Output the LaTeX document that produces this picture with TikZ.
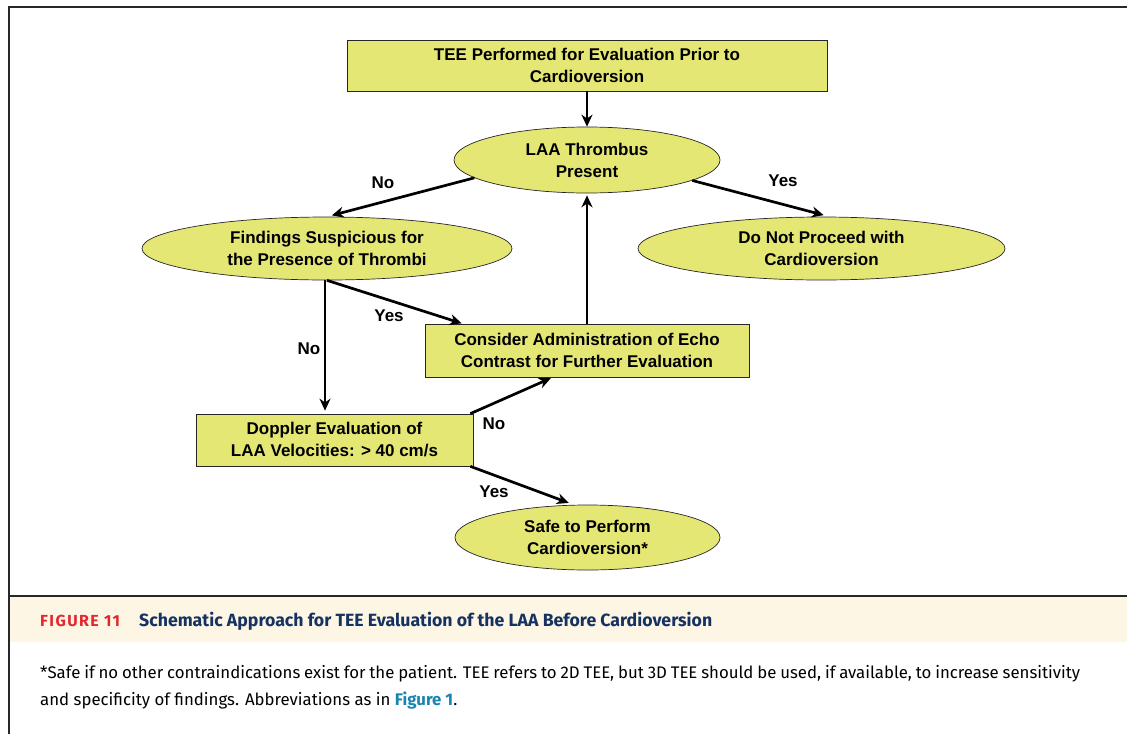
\documentclass[tikz,border=0pt]{standalone}
\usepackage{fontspec}
\usepackage{tikz}
\usepackage{xcolor}
\usetikzlibrary{arrows.meta, calc, positioning, shapes.geometric}
\newfontfamily\diagfont{Liberation Sans}
\newfontfamily\capfont{Fira Sans}
\definecolor{boxyellow}{RGB}{229,231,117}
\definecolor{bandcream}{RGB}{253,246,228}
\definecolor{figred}{RGB}{226,40,46}
\definecolor{titlenavy}{RGB}{22,50,98}
\definecolor{linkblue}{RGB}{24,132,178}
\definecolor{framegray}{RGB}{40,40,40}

\tikzset{
  decision/.style={ellipse, draw=black!85, line width=0.7pt, fill=boxyellow, inner sep=0pt, align=center,
    font=\diagfont\bfseries\fontsize{17}{22}\selectfont},
  actionbox/.style={rectangle, draw=black!85, line width=0.7pt, fill=boxyellow, inner sep=0pt, align=center,
    font=\diagfont\bfseries\fontsize{17}{22}\selectfont},
  flow/.style={-{Stealth[length=12pt, width=11pt]}, line width=2.7pt},
  answer/.style={font=\diagfont\bfseries\fontsize{17}{20}\selectfont}
}

\begin{document}
\begin{tikzpicture}[x=1pt, y=-1pt, >=Stealth]
        \useasboundingbox (0,0) rectangle (1127,734);

        % Frame and caption band
        \fill[bandcream] (9,597) rectangle (1127,642);
        \draw[framegray, line width=2pt] (8.5,734) -- (8.5,6.5) -- (1127,6.5);
        \draw[framegray, line width=1.6pt] (8.5,596) -- (1127,596);

        % Boxes
        \node[actionbox, minimum width=480pt, minimum height=51pt] (tee) at (587,65.5)
            {TEE Performed for Evaluation Prior to\\Cardioversion};
        \node[decision, minimum width=266pt, minimum height=66pt] (laa) at (587,160)
            {LAA Thrombus\\Present};
        \node[decision, minimum width=370pt, minimum height=63pt] (findings) at (327,248.5)
            {Findings Suspicious for\\the Presence of Thrombi};
        \node[decision, minimum width=367pt, minimum height=63pt] (notpro) at (821.5,248.5)
            {Do Not Proceed with\\Cardioversion};
        \node[actionbox, minimum width=324pt, minimum height=53pt] (consider) at (587,350.5)
            {Consider Administration of Echo\\Contrast for Further Evaluation};
        \node[actionbox, minimum width=277pt, minimum height=52pt] (doppler) at (334.5,440)
            {Doppler Evaluation of\\LAA Velocities: > 40 cm/s};
        \node[decision, minimum width=265pt, minimum height=65pt] (safe) at (587.5,537.5)
            {Safe to Perform\\Cardioversion*};

        % Connectors
        \draw[flow] (tee) -- (laa);
        \draw[flow, shorten >=5pt] (laa.189) -- (findings.north);
        \draw[flow, shorten >=6pt] (laa.-11) -- ([xshift=8pt]notpro.north);
        \draw[flow, shorten >=2pt] (consider) -- (laa);
        \draw[flow, shorten >=3pt] ([xshift=-2pt]findings.south) -- ([xshift=-2pt]doppler.north -| findings.south);
        \draw[flow, shorten >=1pt] (findings.south) -- ($(consider.north west)+(38,0)$);
        \draw[flow, shorten >=2pt] ([xshift=-3pt]doppler.north east) -- ($(consider.south west)+(128,0)$);
        \draw[flow, shorten >=5pt] ([xshift=-3pt]doppler.south east) -- ([xshift=-14pt]safe.north);

        % Answers
        \node[answer] (nofind) at (383,183) {No};
        \node[answer] (yesnot) at (783,181) {Yes};
        \node[answer] (nodop) at (309,349) {No};
        \node[answer] (yescons) at (389,316) {Yes};
        \node[answer] (nodopcons) at (494,424) {No};
        \node[answer] (yessafe) at (494,492) {Yes};

        % Caption
        \node[anchor=base west, inner sep=0pt, text=figred, font=\capfont\bfseries\fontsize{16}{18}\selectfont\addfontfeatures{LetterSpace=9}] (fignum) at (40,626)
            {FIGURE 11};
        \node[anchor=base west, inner sep=0pt, text=titlenavy, font=\capfont\bfseries\fontsize{17.7}{20}\selectfont] (figtitle) at (139,626)
            {Schematic Approach for TEE Evaluation of the LAA Before Cardioversion};
        \node[anchor=base west, inner sep=0pt, font=\capfont\fontsize{16.8}{27}\selectfont] (noteone) at (40,678)
            {\makebox[1040pt][s]{*Safe if no other contraindications exist for the patient. TEE refers to 2D TEE, but 3D TEE should be used, if available, to increase sensitivity}};
        \node[anchor=base west, inner sep=0pt, font=\capfont\fontsize{16.8}{27}\selectfont] (notetwo) at (40,705)
            {and specificity of findings. Abbreviations as in {\bfseries\color{linkblue}Figure 1}.};
    \end{tikzpicture}
\end{document}
